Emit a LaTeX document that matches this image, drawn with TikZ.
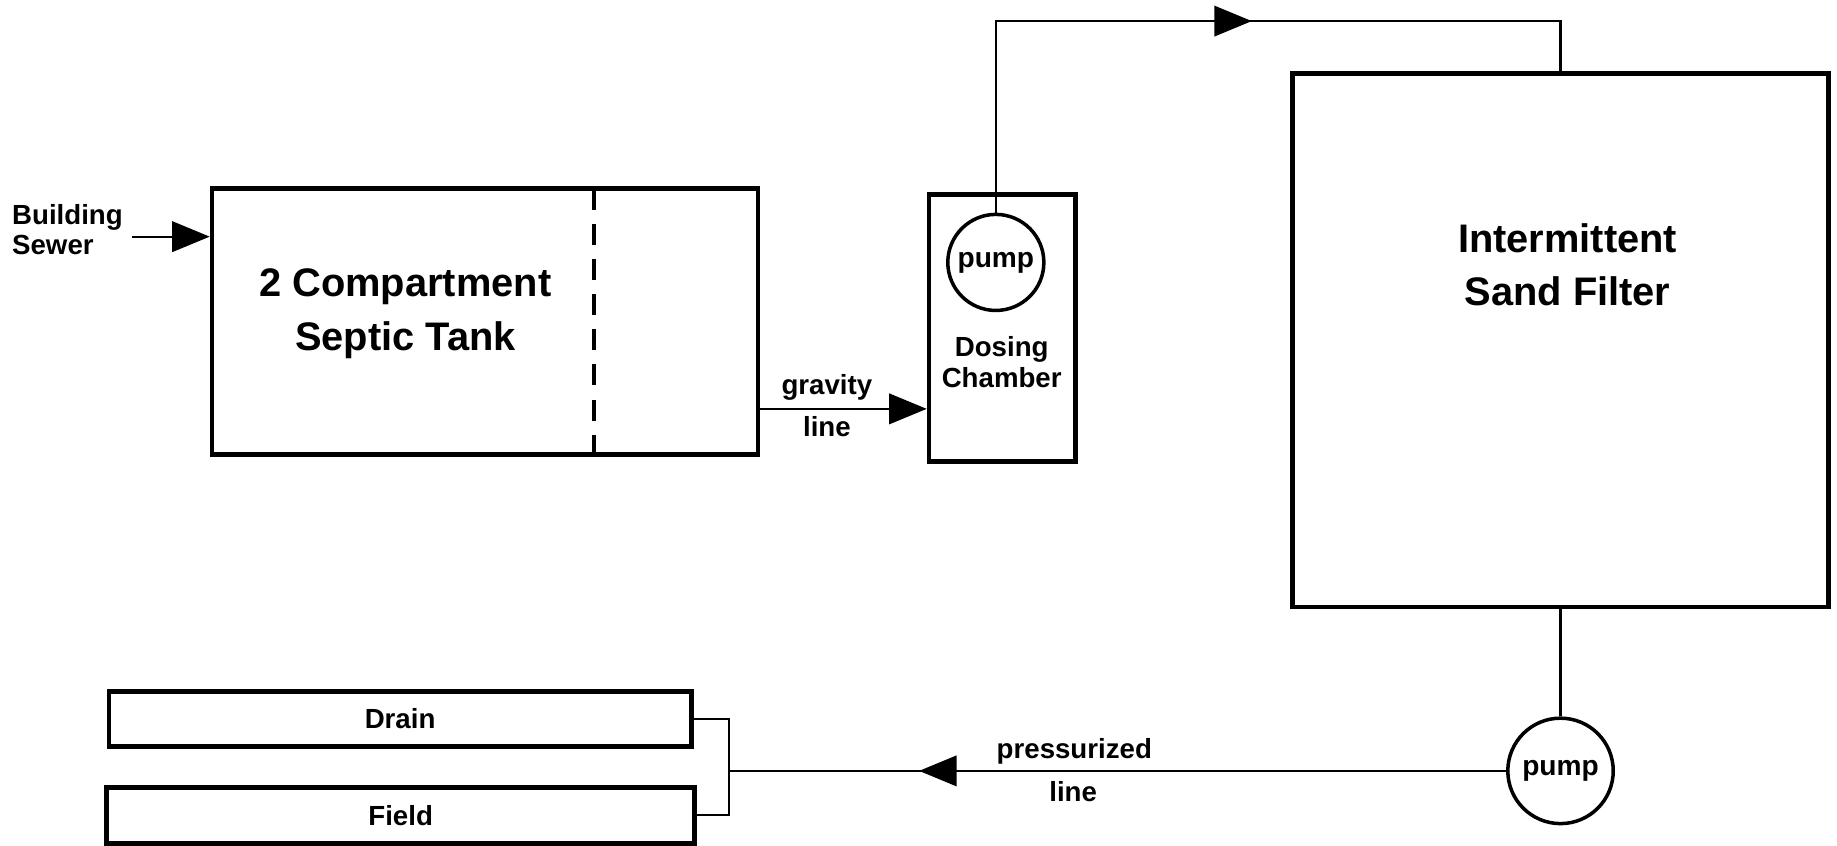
\documentclass[tikz,border=0pt]{standalone}
\usepackage{fontspec}
\setmainfont{Liberation Sans}
\usetikzlibrary{arrows.meta,decorations.markings}
\begin{document}
\begin{tikzpicture}[x=0.5pt,y=-0.5pt,
 box/.style={draw, line width=2pt, inner sep=0pt},
 pumpc/.style={draw, circle, line width=1.5pt, inner sep=0pt, font=\bfseries\fontsize{12}{14}\selectfont},
 lbl/.style={font=\bfseries\fontsize{11.8}{13}\selectfont, inner sep=0pt, align=center},
 big/.style={font=\bfseries\fontsize{17}{23}\selectfont, inner sep=0pt, align=center},
 pipe/.style={line width=0.9pt},
 tip/.style={-{Triangle[length=16pt,width=13pt]}},
 midtip/.style={postaction=decorate, decoration={markings, mark=at position #1 with {\arrow{Triangle[length=16pt,width=13pt]}}}},
]
\useasboundingbox (0,0) rectangle (1568,722);
% boxes
\node[box, minimum width=233pt, minimum height=113.5pt] (septic) at (414,274.5) {};
\node[box, minimum width=62.5pt, minimum height=114pt] (dosing) at (855.5,280) {};
\node[box, minimum width=229pt, minimum height=227.5pt] (sand) at (1332,290.5) {};
\node[box, minimum width=248.5pt, minimum height=23.5pt, lbl] (drain) at (341.5,613.5) {Drain};
\node[box, minimum width=251pt, minimum height=24pt, lbl] (field) at (342,696) {Field};
\node[pumpc, minimum size=41pt] (dpump) at (850,224) {pump};
\node[pumpc, minimum size=45pt] (bpump) at (1332,658) {pump};
% texts
\node[big] (septictxt) at (346,268) {2 Compartment\\Septic Tank};
\node[big] (sandtxt) at (1338,226) {Intermittent\\Sand Filter};
\node[lbl] (dosingtxt) at (855,309) {Dosing\\Chamber};
\node[lbl, align=left, anchor=west] (sewer) at (10,196) {Building\\Sewer};
% dashed partition
\draw[line width=1.6pt, dash pattern=on 9pt off 6pt] (507,161) -- (507,388);
% coordinates
\coordinate (sewerin) at (113,202);
\coordinate (gy) at (700,349);
\coordinate (tc) at (1000,18);
\coordinate (j) at (622,658);
% connectors
\draw[pipe, tip] (sewerin) -- (sewerin -| septic.west);
\draw[pipe, tip] (septic.east |- gy) -- (dosing.west |- gy)
  node[lbl, pos=0.4, above=3pt] (grav) {gravity}
  node[lbl, pos=0.4, below=3pt] (gline) {line};
\draw[pipe, midtip=191pt] (dpump.north) |- (tc) -| (sand.north);
\draw[pipe] (sand.south) -- (bpump.north);
\draw[pipe, midtip=250.5pt] (bpump.west) -- (j);
\node[lbl] (press) at (917,641) {pressurized};
\node[lbl] (pline) at (916,676) {line};
\draw[pipe] (drain.east) -| (j) |- (field.east);
\end{tikzpicture}
\end{document}
